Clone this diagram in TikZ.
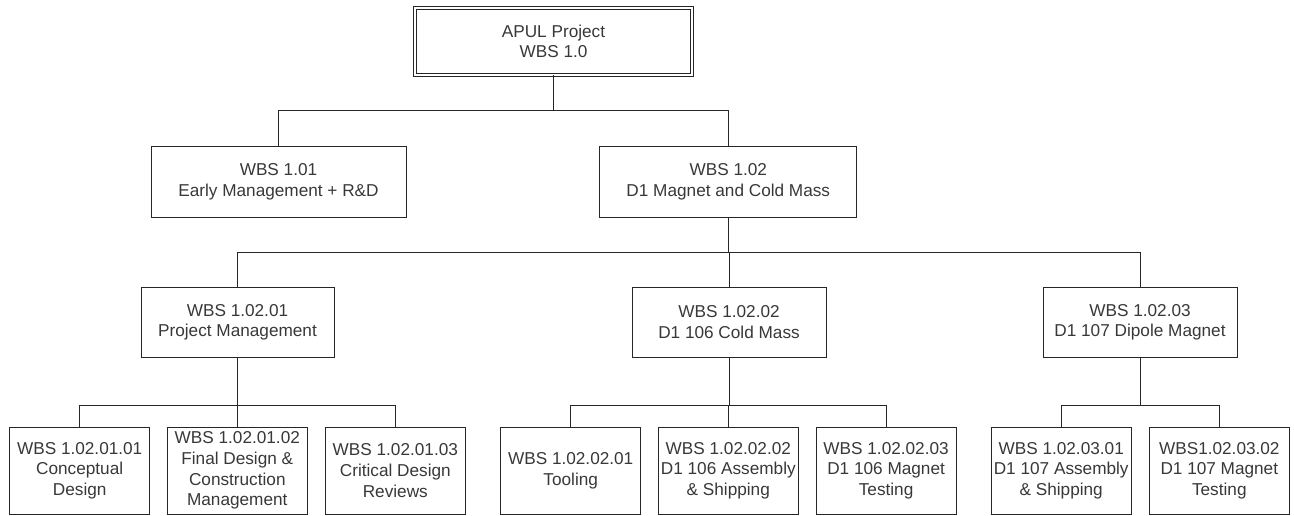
\documentclass[tikz,border=0pt]{standalone}
\usepackage{fontspec}
\setmainfont{Liberation Sans}
\usepackage{tikz}

\begin{document}
\begin{tikzpicture}[x=1pt,y=-1pt,
    every node/.style={font=\fontsize{17.2}{20.7}\selectfont, text=black!78, align=center},
    root/.style={draw=black!85, double, double distance=2.2pt, line width=0.9pt,
                 minimum width=277pt, minimum height=67pt},
    box/.style={draw=black!85, line width=1pt, minimum width=#1, minimum height=70pt, inner sep=1pt},
    leaf/.style={draw=black!85, line width=1pt, minimum width=140pt, minimum height=87pt, inner sep=0pt},
    link/.style={draw=black!85, line width=1pt}]
    \useasboundingbox (0,0) rectangle (1294,516);

    % levels 1 and 2
    \node[root] (apul) at (553.5,41.5) {APUL Project\\WBS 1.0};
    \node[box=255pt] (w101) at (278.5,182) {WBS 1.01\\Early Management + R\&D};
    \node[box=257pt] (w102) at (728.3,182) {WBS 1.02\\D1 Magnet and Cold Mass};

    % level 3
    \node[box=193pt] (w10201) at (237.5,322.3) {WBS 1.02.01\\Project Management};
    \node[box=194pt] (w10202) at (729,322.3) {WBS 1.02.02\\D1 106 Cold Mass};
    \node[box=194pt] (w10203) at (1140,322.3) {WBS 1.02.03\\D1 107 Dipole Magnet};

    % level 4
    \node[leaf] (w1020101) at (79.7,470.7) {WBS 1.02.01.01\\Conceptual\\Design};
    \node[leaf] (w1020102) at (237.3,470.7) {WBS 1.02.01.02\\Final Design \&\\Construction\\Management};
    \node[leaf] (w1020103) at (395.3,470.7) {WBS 1.02.01.03\\Critical Design\\Reviews};
    \node[leaf] (w1020201) at (570.7,470.7) {WBS 1.02.02.01\\Tooling};
    \node[leaf] (w1020202) at (728.3,470.7) {WBS 1.02.02.02\\D1 106 Assembly\\\& Shipping};
    \node[leaf] (w1020203) at (886.1,470.7) {WBS 1.02.02.03\\D1 106 Magnet\\Testing};
    \node[leaf] (w1020301) at (1061.2,470.7) {WBS 1.02.03.01\\D1 107 Assembly\\\& Shipping};
    \node[leaf] (w1020302) at (1219.3,470.7) {WBS1.02.03.02\\D1 107 Magnet\\Testing};

    % connectors
    \foreach \c in {w101,w102}
      \draw[link] (apul.south) -- ++(0,35) -| (\c.north);
    \foreach \c in {w10201,w10202,w10203}
      \draw[link] (w102.south) -- ++(0,35) -| (\c.north);
    \foreach \p/\c in {w10201/w1020101,w10201/w1020102,w10201/w1020103,
                       w10202/w1020201,w10202/w1020202,w10202/w1020203,
                       w10203/w1020301,w10203/w1020302}
      \draw[link] (\p.south) -- ++(0,48) -| (\c.north);
\end{tikzpicture}
\end{document}
